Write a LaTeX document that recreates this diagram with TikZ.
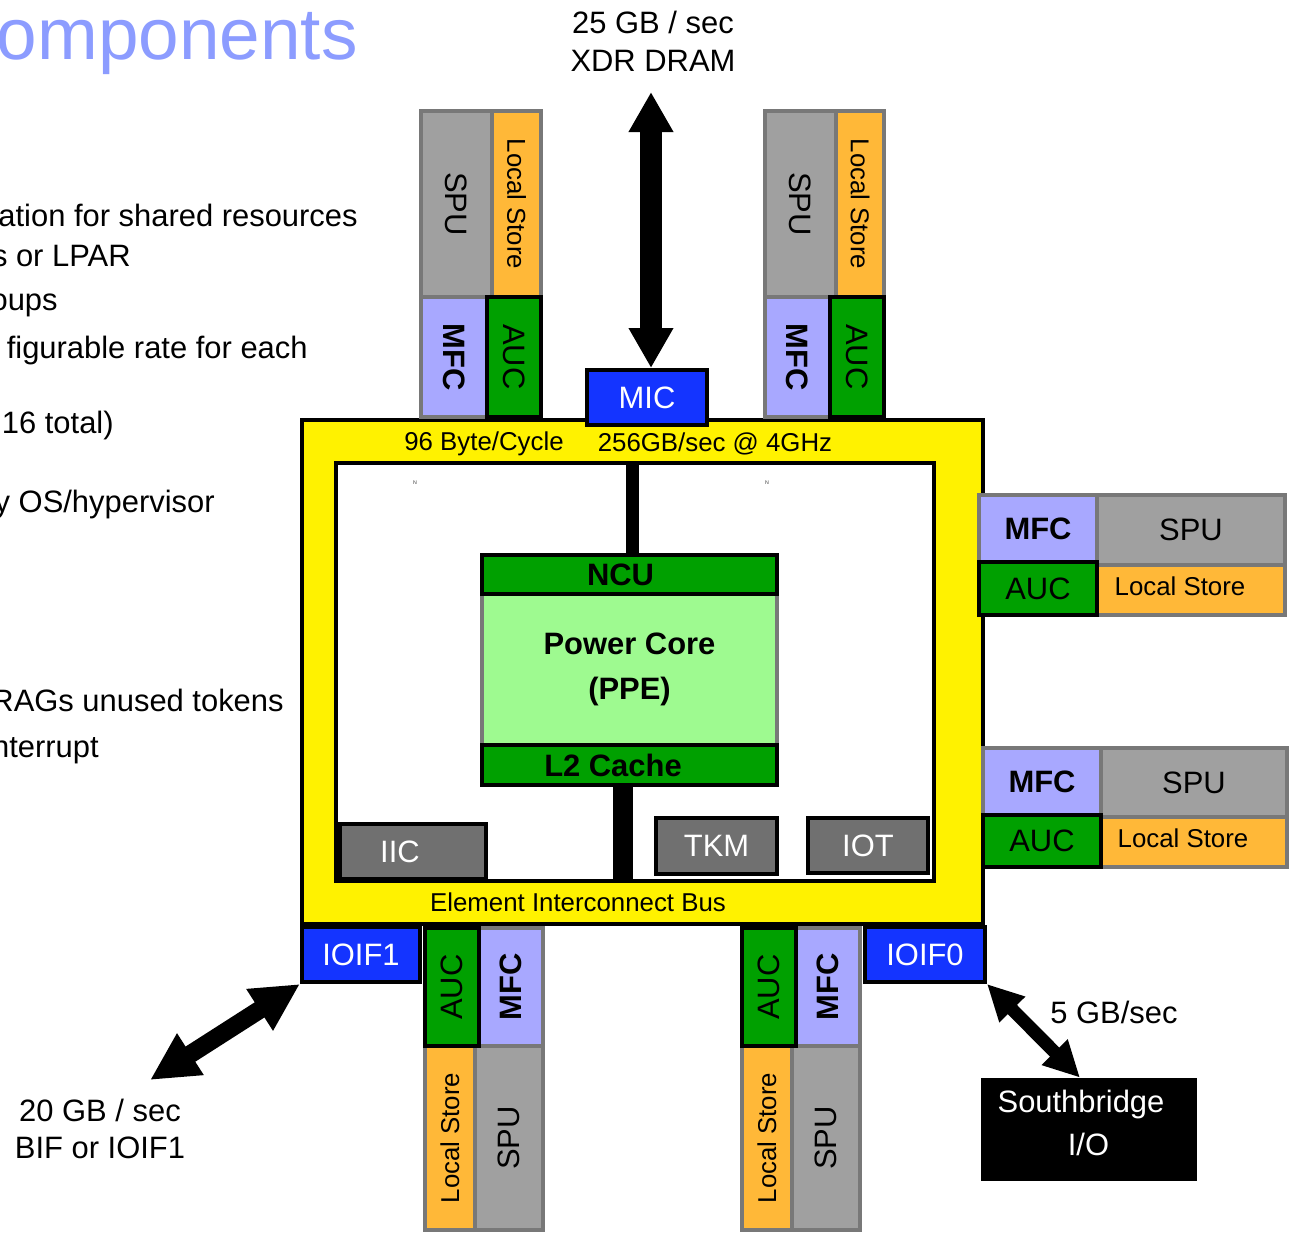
\documentclass[tikz,border=0pt]{standalone}
\usepackage{fontspec}
\setmainfont{Liberation Sans}
\usepackage{graphicx}
\usepackage{tikz}
\usetikzlibrary{arrows.meta,positioning}
\definecolor{cellblue}{RGB}{20,52,255}
\definecolor{aucgreen}{RGB}{0,160,0}
\definecolor{ppegreen}{RGB}{158,250,144}
\definecolor{mfclav}{RGB}{168,168,255}
\definecolor{spugray}{RGB}{160,160,160}
\definecolor{lsorange}{RGB}{255,184,56}
\definecolor{edgegray}{RGB}{120,120,120}
\definecolor{unitgray}{RGB}{112,112,112}
\definecolor{titleblue}{RGB}{140,156,255}
\newcommand{\fsz}{\fontsize{17.6}{21.5}\selectfont}
\newcommand{\fsm}{\fontsize{14.7}{17}\selectfont}
\newcommand{\blk}[7]{%
  \pgfmathsetmacro{\bw}{(#4-#2)*0.02}%
  \pgfmathsetmacro{\bh}{(#5-#3)*0.02}%
  \node[#6,minimum width=\bw cm,minimum height=\bh cm] (#1) at ({(#2+#4)/2},{(#3+#5)/2}) {#7};%
}
\tikzset{
  base/.style={inner sep=0pt,font=\fsz},
  spu/.style={base,fill=spugray,draw=edgegray,line width=0.08cm},
  lstore/.style={base,fill=lsorange,draw=edgegray,line width=0.08cm,font=\fsm},
  mfc/.style={base,fill=mfclav,draw=edgegray,line width=0.08cm,font=\fsz\bfseries},
  auc/.style={base,fill=aucgreen,draw=black,line width=0.08cm},
  ioblk/.style={base,fill=cellblue,draw=black,line width=0.08cm,text=white},
  unitbox/.style={base,fill=unitgray,draw=black,line width=0.08cm,text=white},
  cache/.style={base,fill=aucgreen,draw=black,line width=0.08cm,font=\fsz\bfseries},
  core/.style={base,fill=ppegreen,draw=edgegray,line width=0.08cm,font=\fontsize{17.6}{25.5}\selectfont\bfseries,align=center},
  ring/.style={draw=black,line width=0.08cm},
  note/.style={font=\fsz,inner sep=0pt,anchor=base east},
  caption/.style={font=\fontsize{17.6}{21.5}\selectfont,inner sep=0pt,align=center},
  bar/.style={draw=black,line width=#1},
  dblarrow/.style args={#1/#2/#3}{draw=black,line width=#1,arrows={Triangle[width=#2,length=#3]-Triangle[width=#2,length=#3]}}
}
\begin{document}
\begin{tikzpicture}[x=0.02cm,y=-0.02cm]
  \useasboundingbox (0,0) rectangle (1289,1232);

  \node[anchor=base east,inner sep=0pt,text=titleblue,font=\fontsize{41.5}{45}\selectfont] (title) at (358,59) {omponents};
  \node[note] (t1) at (358,226) {ation for shared resources};
  \node[note] (t2) at (131,266) {s or LPAR};
  \node[note] (t3) at (58,310) {oups};
  \node[note] (t4) at (308,358) {figurable rate for each};
  \node[note] (t5) at (114,433) {16 total)};
  \node[note] (t6) at (215,512) {y OS/hypervisor};
  \node[note] (t7) at (284,711) {RAGs unused tokens};
  \node[note] (t8) at (99,757) {nterrupt};

  % element interconnect bus
  \blk{eib}{302}{420}{983}{924}{ring,fill=yellow}{}
  \blk{inner}{336}{463}{934}{881}{ring,fill=white}{}
  \node[font=\fsm,inner sep=0pt] (bw1) at (484,444) {96 Byte/Cycle};
  \node[font=\fsm,inner sep=0pt] (bw2) at (715,444) {256GB/sec @ 4GHz};
  \node[font=\fsm,inner sep=0pt] (eibl) at (578,902) {Element Interconnect Bus};
  \node[font=\fontsize{3}{3}\selectfont,text=darkgray,inner sep=0pt] (n1) at (415,483) {N};
  \node[font=\fontsize{3}{3}\selectfont,text=darkgray,inner sep=0pt] (n2) at (767,483) {N};

  % power core
  \blk{ppe}{482}{594}{777}{745}{core}{Power Core\\(PPE)}
  \blk{ncu}{482}{555}{777}{594}{cache}{\hspace*{-0.36cm}NCU}
  \blk{l2}{482}{745}{777}{785}{cache}{\hspace*{-0.66cm}L2 Cache}
  \draw[bar=0.26cm] ([xshift=0.05cm]ncu.north) -- ([xshift=0.05cm]ncu.north |- inner.north);
  \draw[bar=0.4cm] ([xshift=-0.13cm]l2.south) -- ([xshift=-0.13cm]l2.south |- inner.south);
  \blk{iic}{340}{824}{486}{879}{unitbox}{\hspace*{-0.52cm}IIC}
  \blk{tkm}{656}{818}{777}{874}{unitbox}{TKM}
  \blk{iot}{808}{818}{928}{873}{unitbox}{IOT}

  % memory and io interfaces
  \blk{mic}{587}{370}{707}{425}{ioblk}{MIC}
  \blk{ioif1}{302}{927}{420}{982}{ioblk}{IOIF1}
  \blk{ioif0}{865}{927}{985}{982}{ioblk}{IOIF0}
  \blk{sb}{981}{1078}{1197}{1181}{base,fill=black}{}
  \node[caption,text=white,font=\fontsize{17.6}{24.4}\selectfont] (sbtext) at ([xshift=-0.16cm,yshift=0.14cm]sb.center) {Southbridge\\\hspace*{0.3cm}I/O};

  % top SPEs
  \blk{tlspu}{421}{111}{492}{297}{spu}{\rotatebox{-90}{SPU}}
  \blk{tlls}{492}{111}{541}{297}{lstore}{\rotatebox{-90}{Local Store}}
  \blk{tlmfc}{421}{297}{487}{417}{mfc}{\rotatebox{-90}{MFC}}
  \blk{tlauc}{487}{297}{541}{417}{auc}{\rotatebox{-90}{AUC}}
  \blk{trspu}{765}{111}{836}{297}{spu}{\rotatebox{-90}{SPU}}
  \blk{trls}{836}{111}{884}{297}{lstore}{\rotatebox{-90}{Local Store}}
  \blk{trmfc}{765}{297}{830}{417}{mfc}{\rotatebox{-90}{MFC}}
  \blk{trauc}{830}{297}{884}{417}{auc}{\rotatebox{-90}{AUC}}

  % right SPEs
  \blk{ruspu}{1097}{495}{1285}{565}{spu}{SPU}
  \blk{ruls}{1097}{565}{1285}{615}{lstore}{\hspace*{-0.44cm}\raisebox{0.14cm}{Local Store}}
  \blk{rumfc}{979}{495}{1097}{562}{mfc}{MFC}
  \blk{ruauc}{979}{562}{1097}{615}{auc}{AUC}
  \blk{rlspu}{1101}{748}{1287}{817}{spu}{SPU}
  \blk{rlls}{1101}{817}{1287}{867}{lstore}{\hspace*{-0.44cm}\raisebox{0.14cm}{Local Store}}
  \blk{rlmfc}{983}{748}{1101}{815}{mfc}{MFC}
  \blk{rlauc}{983}{815}{1101}{867}{auc}{AUC}

  % bottom SPEs
  \blk{blls}{425}{1046}{475}{1230}{lstore}{\rotatebox{90}{Local Store}}
  \blk{blspu}{475}{1046}{543}{1230}{spu}{\rotatebox{90}{SPU}}
  \blk{blmfc}{479}{928}{543}{1046}{mfc}{\rotatebox{90}{MFC}}
  \blk{blauc}{425}{928}{479}{1046}{auc}{\rotatebox{90}{AUC}}
  \blk{brls}{742}{1046}{792}{1230}{lstore}{\rotatebox{90}{Local Store}}
  \blk{brspu}{792}{1046}{860}{1230}{spu}{\rotatebox{90}{SPU}}
  \blk{brmfc}{796}{928}{860}{1046}{mfc}{\rotatebox{90}{MFC}}
  \blk{brauc}{742}{928}{796}{1046}{auc}{\rotatebox{90}{AUC}}

  % off-chip links
  \coordinate (dram) at (651,92);
  \coordinate (bif) at (150,1080);
  \node[caption] (dramlbl) at (653,41) {25 GB / sec\\XDR DRAM};
  \node[caption] (biflbl) at (100,1129) {20 GB / sec\\BIF or IOIF1};
  \node[caption] (sblbl) at (1114,1012) {5 GB/sec};
  \draw[dblarrow=0.44cm/0.84cm/0.8cm] (dram) -- (dram |- mic.north);
  \draw[dblarrow=0.36cm/0.92cm/0.96cm] (ioif1.south west) -- (bif);
  \draw[dblarrow=0.26cm/0.68cm/0.72cm] (ioif0.south east) -- ([xshift=-0.18cm]sb.north);
\end{tikzpicture}
\end{document}
